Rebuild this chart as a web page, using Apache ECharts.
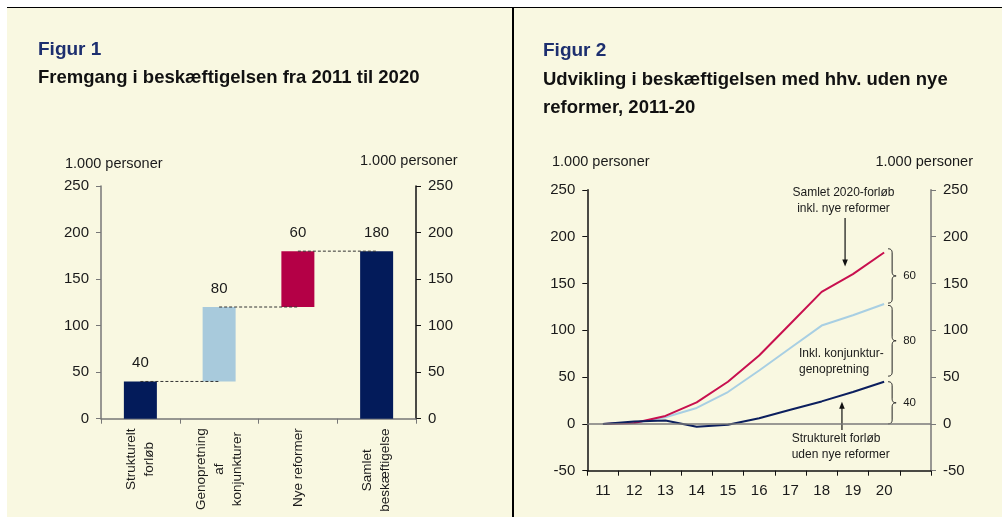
<!DOCTYPE html>
<html><head><meta charset="utf-8">
<script src="https://cdn.jsdelivr.net/npm/echarts@6/dist/echarts.min.js"></script>
<style>
html,body{margin:0;padding:0;background:#fff;width:1002px;height:517px;overflow:hidden;}
#bg{position:absolute;left:7px;top:7px;width:995px;height:510px;background:#f9f8e1;border-top:1.5px solid #000;box-sizing:border-box;}
#sep{position:absolute;left:512px;top:7px;width:1.5px;height:510px;background:#000;}
#chart{position:absolute;left:0;top:0;width:1002px;height:517px;}
</style></head><body>
<div id="bg"></div><div id="sep"></div><div id="chart"></div>
<script>
// ---- data ----
const fig1Categories = ['Strukturelt\nforløb', 'Genopretning\naf\nkonjunkturer', 'Nye reformer', 'Samlet\nbeskæftigelse'];
const fig1Values = [40, 80, 60, 180];
const fig1Base = [0, 40, 120, 0];
const fig2Years = ['11', '12', '13', '14', '15', '16', '17', '18', '19', '20', ''];
const fig2Struct = [0, 2.5, 3.5, -3, -1, 6, 15, 24, 34, 45];
const fig2Konj = [0, 1, 7, 17, 34, 57, 81, 105, 116, 128];
const fig2Total = [0, 1, 8.5, 23, 45, 73, 107, 141, 160, 183];
const fig2BraceLabels = ['60', '80', '40'];

// ---- styles ----
const FF = '"Liberation Sans", Arial, Helvetica, sans-serif';
const barColors = ['#031b5a', '#a8cadc', '#b40046', '#031b5a'];
const TXT = '#1a1a1a';

const mctx = document.createElement('canvas').getContext('2d');
mctx.font = '13.5px ' + FF;
const catRich = {};
fig1Categories.forEach((c, i) => {
  const w = Math.max(...c.split('\n').map(l => mctx.measureText(l).width));
  catRich['c' + i] = {width: Math.ceil(w) + 1, align: 'center', fontSize: 13.5, lineHeight: 18, color: TXT, fontFamily: FF};
});

const dashSeries = [0, 1, 2].map(i => {
  const level = fig1Base[i] + fig1Values[i];
  return {
    type: 'line', xAxisIndex: 0, yAxisIndex: 0, silent: true, symbol: 'none', z: 5,
    data: fig1Categories.map((_, j) => (j === i || j === i + 1) ? level : null),
    lineStyle: {color: '#333', width: 1, type: [3, 2]}
  };
});

function yAxisCommon(grid, min, max, pos, color) {
  return {
    type: 'value', gridIndex: grid, min: min, max: max, interval: 50, position: pos,
    axisLine: {show: true, lineStyle: {color: color, width: 1.5}},
    axisTick: {show: true, length: 5, lineStyle: {color: color, width: 1}},
    axisLabel: {margin: 12, fontSize: 15, color: TXT, fontFamily: FF},
    splitLine: {show: false}
  };
}

const chart = echarts.init(document.getElementById('chart'));
const tStyle = (size, bold, color, lh) => ({fontSize: size, fontWeight: bold ? 'bold' : 'normal', color: color, fontFamily: FF, lineHeight: lh});
chart.setOption({
  animation: false,
  backgroundColor: 'transparent',
  title: [
    {text: 'Figur 1', left: 38, top: 40, padding: 0, textStyle: tStyle(19, true, '#1d2f6f', 20)},
    {text: 'Fremgang i beskæftigelsen fra 2011 til 2020', left: 38, top: 67, padding: 0, textStyle: tStyle(18.5, true, '#111', 22)},
    {text: '1.000 personer', left: 65, top: 156, padding: 0, textStyle: tStyle(14.5, false, TXT, 16)},
    {text: '1.000 personer', left: 360, top: 153, padding: 0, textStyle: tStyle(14.5, false, TXT, 16)},
    {text: 'Figur 2', left: 543, top: 41, padding: 0, textStyle: tStyle(19, true, '#1d2f6f', 20)},
    {text: 'Udvikling i beskæftigelsen med hhv. uden nye\nreformer, 2011-20', left: 543, top: 66, padding: 0, textStyle: tStyle(18.5, true, '#111', 28)},
    {text: '1.000 personer', left: 552, top: 154, padding: 0, textStyle: tStyle(14.5, false, TXT, 16)},
    {text: '1.000 personer', right: 29, top: 154, padding: 0, textStyle: tStyle(14.5, false, TXT, 16)}
  ],
  grid: [
    {left: 101, top: 186, width: 315, height: 232.7, outerBoundsMode: 'none', containLabel: false},
    {left: 587.3, top: 189.8, width: 343.7, height: 280.9, outerBoundsMode: 'none', containLabel: false}
  ],
  xAxis: [
    {
      type: 'category', gridIndex: 0, data: fig1Categories,
      axisLine: {show: true, onZero: false, lineStyle: {color: '#777', width: 1.5}},
      axisTick: {show: true, length: 5, lineStyle: {color: '#777'}},
      axisLabel: {
        interval: 0, rotate: 90, margin: 9,
        formatter: (v, idx) => v.split('\n').map(l => '{c' + idx + '|' + l + '}').join('\n'),
        rich: catRich
      }
    },
    {
      type: 'category', gridIndex: 1, data: fig2Years, boundaryGap: true,
      axisLine: {show: true, onZero: false, lineStyle: {color: '#111', width: 1.5}},
      axisTick: {show: true, length: 5, interval: 0, lineStyle: {color: '#111'}},
      axisLabel: {interval: 0, margin: 13, fontSize: 15, color: TXT, fontFamily: FF}
    }
  ],
  yAxis: [
    yAxisCommon(0, 0, 250, 'left', '#777'),
    yAxisCommon(0, 0, 250, 'right', '#111'),
    yAxisCommon(1, -50, 250, 'left', '#111'),
    yAxisCommon(1, -50, 250, 'right', '#777')
  ],
  series: [
    {type: 'bar', xAxisIndex: 0, yAxisIndex: 0, stack: 'w', data: fig1Base, barWidth: 33, silent: true,
     itemStyle: {color: 'transparent'}},
    {type: 'bar', xAxisIndex: 0, yAxisIndex: 0, stack: 'w', barWidth: 33,
     data: fig1Values.map((v, i) => ({value: v, itemStyle: {color: barColors[i]}})),
     label: {show: true, position: 'top', distance: 11, fontSize: 15, color: TXT, fontFamily: FF}},
    ...dashSeries,
    {type: 'line', name: 'Inkl. konjunkturgenopretning', xAxisIndex: 1, yAxisIndex: 2, data: fig2Konj, symbol: 'none',
     lineStyle: {color: '#a8cfe3', width: 2},
     markLine: {silent: true, symbol: ['none', 'none'], label: {show: false},
       lineStyle: {color: '#7a7a7a', width: 1.5, type: 'solid'}, data: [{yAxis: 0}]}},
    {type: 'line', name: 'Samlet', xAxisIndex: 1, yAxisIndex: 2, data: fig2Total, symbol: 'none',
     lineStyle: {color: '#c8104f', width: 2}},
    {type: 'line', name: 'Strukturelt', xAxisIndex: 1, yAxisIndex: 2, data: fig2Struct, symbol: 'none',
     lineStyle: {color: '#0c1f5e', width: 2}}
  ]
});

// ---- annotations (positioned from the data through the axes) ----
function px(idx, val) { return chart.convertToPixel({xAxisIndex: 1, yAxisIndex: 2}, [idx, val]); }
function pxf(fidx, val) {
  const i0 = Math.floor(fidx), t = fidx - i0;
  const a = px(i0, val), b = px(i0 + 1, val);
  return [a[0] + (b[0] - a[0]) * t, a[1]];
}
function bracePoints(x, y1, y2, w) {
  const pts = [];
  const r = Math.min(4, (y2 - y1) / 4), ym = (y1 + y2) / 2, xm = x + w / 2;
  const quad = (p0, c, p1) => { for (let k = 0; k <= 8; k++) { const t = k / 8;
    pts.push([(1-t)*(1-t)*p0[0] + 2*(1-t)*t*c[0] + t*t*p1[0], (1-t)*(1-t)*p0[1] + 2*(1-t)*t*c[1] + t*t*p1[1]]); } };
  quad([x, y1], [xm, y1], [xm, y1 + r]);
  quad([xm, ym - r], [xm, ym], [x + w, ym]);
  quad([x + w, ym], [xm, ym], [xm, ym + r]);
  quad([xm, y2 - r], [xm, y2], [x, y2]);
  return pts;
}
const last = fig2Total.length - 1;
const bx = px(last, 0)[0] + 4;
const braceRanges = [
  [fig2Total[last] + 4, fig2Konj[last] + 1],
  [fig2Konj[last] - 1.5, fig2Struct[last] + 6],
  [fig2Struct[last], 0]
];
const graphics = [];
braceRanges.forEach((r, i) => {
  const y1 = px(last, r[0])[1], y2 = px(last, r[1])[1];
  graphics.push({type: 'polyline', shape: {points: bracePoints(bx, y1, y2, 8)}, style: {stroke: '#222', lineWidth: 1, fill: null}});
  graphics.push({type: 'text', style: {text: fig2BraceLabels[i], x: bx + 15, y: (y1 + y2) / 2, align: 'left', verticalAlign: 'middle',
    fontSize: 11.5, fontFamily: FF, fill: TXT}});
});
function arrow(x, yFrom, yTo) {
  const dir = yTo > yFrom ? 1 : -1;
  graphics.push({type: 'line', shape: {x1: x, y1: yFrom, x2: x, y2: yTo - dir * 6}, style: {stroke: '#111', lineWidth: 1.2}});
  graphics.push({type: 'polygon', shape: {points: [[x - 2.8, yTo - dir * 7], [x + 2.8, yTo - dir * 7], [x, yTo]]}, style: {fill: '#111'}});
}
// arrow to total line
const f1 = 7.75;
const redAt = fig2Total[7] + (fig2Total[8] - fig2Total[7]) * (f1 - 7);
const p1 = pxf(f1, redAt);
arrow(p1[0], 218, p1[1] - 12);
// arrow to structural line
const f2 = 7.65;
const navAt = fig2Struct[7] + (fig2Struct[8] - fig2Struct[7]) * (f2 - 7);
const p2 = pxf(f2, navAt);
arrow(p2[0], 430, p2[1] + 6.5);

const annStyle = {fontSize: 12, fontFamily: FF, fill: TXT, lineHeight: 16};
graphics.push({type: 'text', style: Object.assign({text: 'Samlet 2020-forløb\ninkl. nye reformer', x: 843.5, y: 184.3, align: 'center', verticalAlign: 'top'}, annStyle)});
graphics.push({type: 'text', style: Object.assign({text: 'Inkl. konjunktur-\ngenopretning', x: 799, y: 346, align: 'left', verticalAlign: 'top'}, annStyle, {lineHeight: 15.5})});
graphics.push({type: 'text', style: Object.assign({text: 'Strukturelt forløb\nuden nye reformer', x: 791.7, y: 431, align: 'left', verticalAlign: 'top'}, annStyle)});
chart.setOption({graphic: graphics});
</script>
</body></html>
